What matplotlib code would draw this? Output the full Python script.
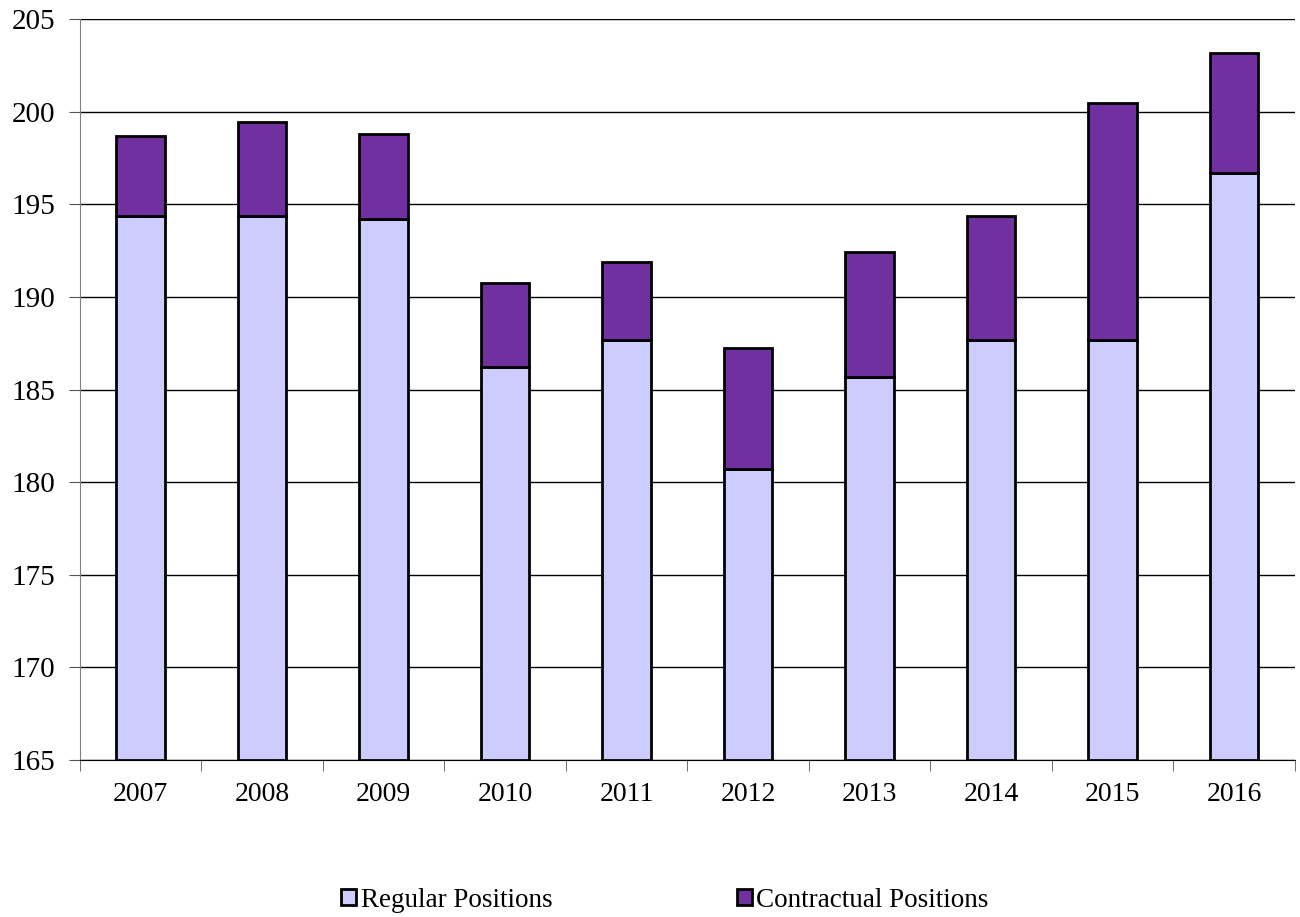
import matplotlib.pyplot as plt
import numpy as np

years = ['2007', '2008', '2009', '2010', '2011', '2012', '2013', '2014', '2015', '2016']
regular = [194.4, 194.4, 194.2, 186.2, 187.7, 180.7, 185.7, 187.7, 187.7, 196.7]
total = [198.7, 199.45, 198.8, 190.75, 191.9, 187.25, 192.45, 194.4, 200.5, 203.2]
contractual = [t - r for t, r in zip(total, regular)]

plt.rcParams['font.family'] = ['Liberation Serif', 'DejaVu Serif']

fig = plt.figure(figsize=(13, 9.17), dpi=100)
ax = fig.add_axes([0.0615, 0.1712, 0.9345, 0.8078])

base = 165
x = np.arange(len(years))
reg_h = [r - base for r in regular]
ax.bar(x, reg_h, 0.4, bottom=base, color='#CCCCFF', edgecolor='black',
       linewidth=2, label='Regular Positions', zorder=3)
ax.bar(x, contractual, 0.4, bottom=regular, color='#7030A0', edgecolor='black',
       linewidth=2, label='Contractual Positions', zorder=3)

ax.set_xlim(-0.5, len(years) - 0.5)
ax.set_ylim(165, 205)
ax.set_yticks(range(165, 206, 5))
ax.yaxis.grid(True, color='black', linewidth=1, zorder=0)
ax.set_xticks(x)
ax.set_xticklabels(years)
ax.set_xticks(np.arange(-0.5, len(years)), minor=True)
ax.tick_params(axis='x', which='major', length=0, pad=16, labelsize=20)
ax.tick_params(axis='x', which='minor', length=8, color='#555555')
ax.tick_params(axis='y', length=8, labelsize=21, color='#555555', pad=10)

for s in ['top', 'right']:
    ax.spines[s].set_visible(False)
ax.spines['left'].set_color('#808080')
ax.spines['bottom'].set_color('black')

fig.legend(loc='center', bbox_to_anchor=(0.5115, 0.0185), ncol=2, frameon=False,
           fontsize=19.5, handlelength=0.55, handleheight=0.55, handletextpad=0.18,
           columnspacing=6.8)

fig.savefig('out.png', dpi=100)
